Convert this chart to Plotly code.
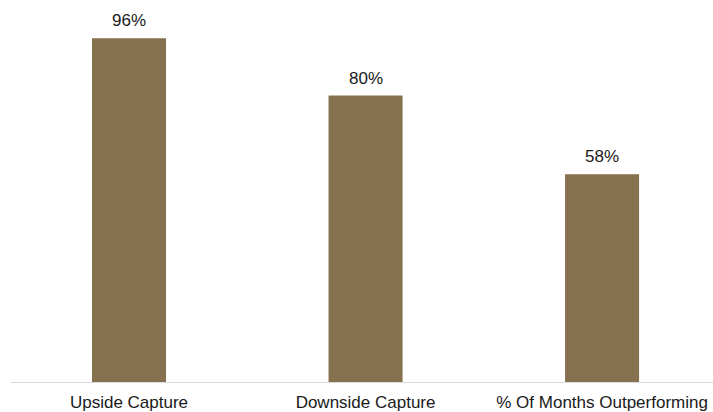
import plotly.graph_objects as go

categories = ["Upside Capture", "Downside Capture", "% Of Months Outperforming"]
values = [96, 80, 58]
value_labels = ["96%", "80%", "58%"]

bar_color = "#85714D"
font_family = "Liberation Sans, Arial, sans-serif"

fig = go.Figure()
fig.add_trace(go.Bar(
    x=categories, y=values,
    marker=dict(color=bar_color, line=dict(width=0)),
    width=0.313,
    hoverinfo="skip",
))

for c, v, t in zip(categories, values, value_labels):
    fig.add_annotation(x=c, y=v, text=t, showarrow=False, yanchor="bottom",
                       yshift=6, font=dict(family=font_family, size=17, color="#1a1a1a"))

fig.update_layout(
    width=713, height=412,
    margin=dict(l=11, r=0, t=10, b=30),
    paper_bgcolor="white", plot_bgcolor="white",
    showlegend=False,
    font=dict(family=font_family, size=17, color="#1a1a1a"),
    xaxis=dict(range=[-0.499, 2.469], showline=True, linecolor="#d9d9d9", linewidth=1,
               ticks="outside", ticklen=5, tickcolor="rgba(0,0,0,0)",
               showgrid=False, zeroline=False,
               tickfont=dict(family=font_family, size=17, color="#1a1a1a")),
    yaxis=dict(range=[0, 103.9], visible=False, showgrid=False, zeroline=False),
)

fig.write_html("out.html")
